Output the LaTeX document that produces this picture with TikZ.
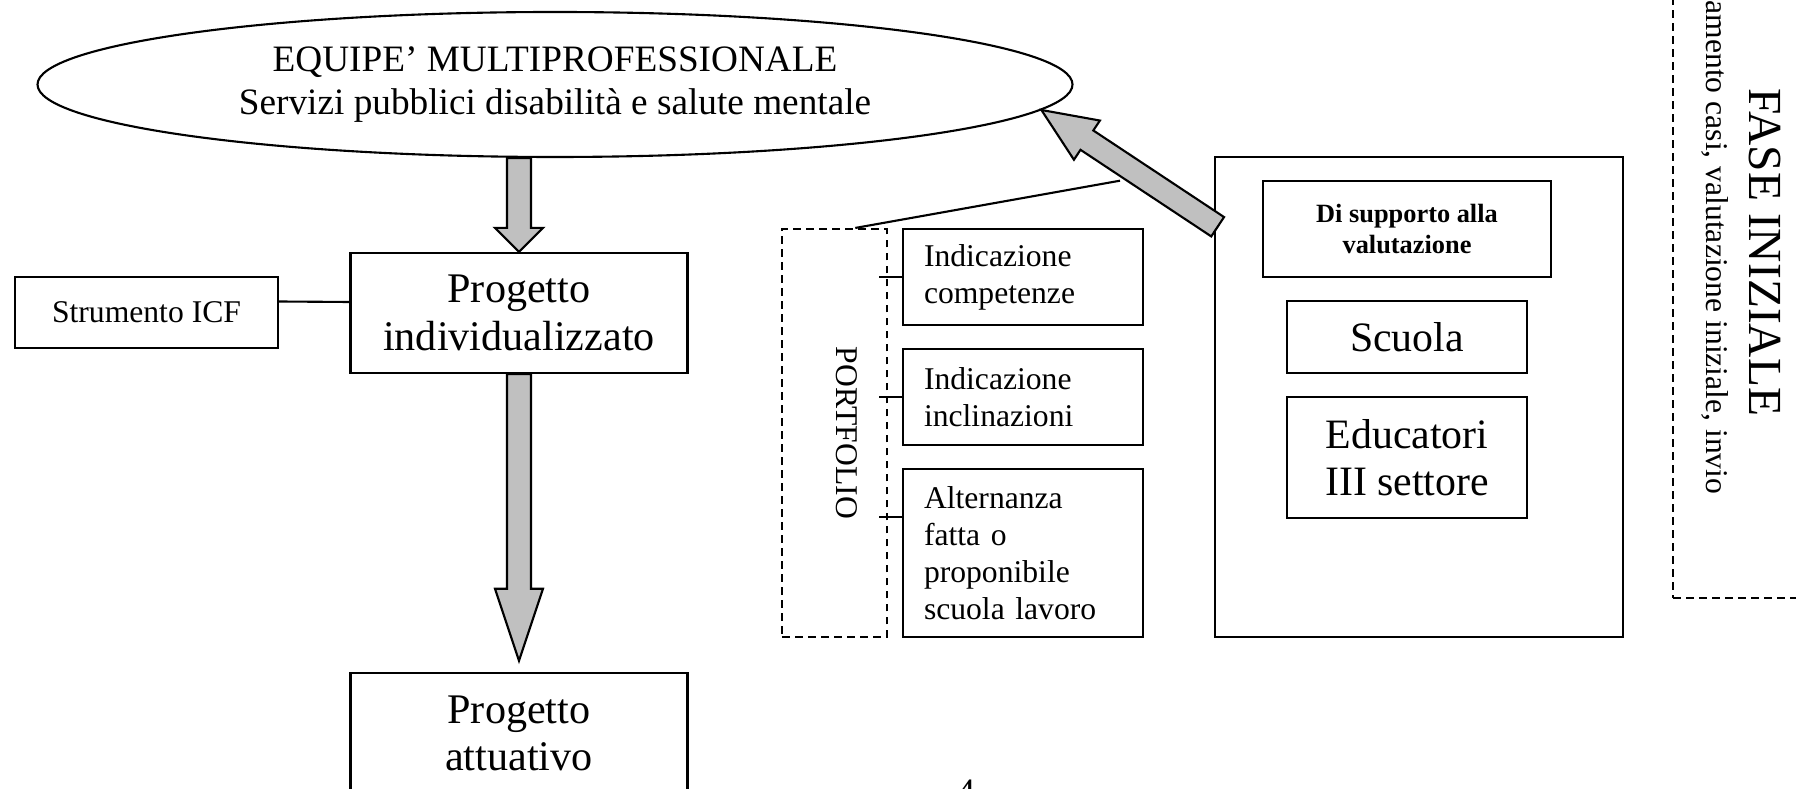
\documentclass[tikz,border=0pt]{standalone}
\usepackage{fontspec}
\setmainfont{Liberation Serif}
\usepackage{tikz}
\usetikzlibrary{shapes.geometric,calc}

\definecolor{arrowgray}{RGB}{192,192,192}

\tikzset{
  box/.style={draw, line width=0.6pt, inner sep=0pt, align=center},
  dashbox/.style={draw, line width=0.6pt, dash pattern=on 2.2pt off 1.5pt, inner sep=0pt},
  listbox/.style={box, align=left, text width=1.98cm, inner xsep=0.214cm, font=\fontsize{9}{10.5}\selectfont},
  big/.style={font=\fontsize{12}{13.6}\selectfont},
  small/.style={font=\fontsize{9}{10.5}\selectfont}
}

% block arrow: from, to, half shaft, half head, head length
\newcommand{\fatarrow}[5]{%
  \coordinate (fa-h) at ($(#2)!#5!(#1)$);
  \filldraw[fill=arrowgray, line width=0.6pt]
    ($(#1)!#3!90:(#2)$) -- ($(fa-h)!#3!-90:(#1)$) -- ($(fa-h)!#4!-90:(#1)$) -- (#2)
    -- ($(fa-h)!#4!90:(#1)$) -- ($(fa-h)!#3!90:(#1)$) -- ($(#1)!#3!-90:(#2)$) -- cycle;
}

\begin{document}
\begin{tikzpicture}
\useasboundingbox (0,0) rectangle (17.96,-7.89);
\clip (0,0) rectangle (17.96,-7.89);

% left column
\node[ellipse, box, minimum width=10.35cm, minimum height=1.45cm,
  font=\fontsize{10.6}{12.2}\selectfont] (equipe) at (5.55,-0.845)
  {EQUIPE’ MULTIPROFESSIONALE\\Servizi pubblici disabilità e salute mentale};
\node[box, big, minimum width=3.37cm, minimum height=1.2cm] (pind) at (5.19,-3.13) {Progetto\\individualizzato};
\node[box, small, minimum width=2.63cm, minimum height=0.71cm] (strum) at (1.465,-3.125) {Strumento ICF};
\node[box, big, minimum width=3.37cm, minimum height=1.2cm] (att) at (5.19,-7.334) {Progetto\\attuativo};

% portfolio
\node[dashbox, minimum width=1.045cm, minimum height=4.08cm] (port) at (8.343,-4.33) {};
\node[small, rotate=-90, inner sep=0pt] (portlab) at (8.47,-4.33) {PORTFOLIO};
\node[listbox, minimum height=0.96cm] (ind1) at (10.23,-2.77) {Indicazione\\competenze};
\node[listbox, minimum height=0.96cm] (ind2) at (10.23,-3.973) {Indicazione\\inclinazioni};
\node[listbox, minimum height=1.68cm] (alt) at (10.23,-5.533) {Alternanza\\fatta o\\proponibile\\scuola lavoro};

% valutazione
\node[box, minimum width=4.08cm, minimum height=4.8cm] (sup) at (14.19,-3.97) {};
\node[box, minimum width=2.88cm, minimum height=0.96cm, font=\fontsize{7.5}{8.8}\selectfont\bfseries] (val) at (14.07,-2.29) {Di supporto alla\\valutazione};
\node[box, minimum width=2.4cm, minimum height=0.72cm, font=\fontsize{11.9}{13.5}\selectfont] (scuola) at (14.07,-3.37) {Scuola};
\node[box, minimum width=2.4cm, minimum height=1.21cm, font=\fontsize{11.9}{13.5}\selectfont] (edu) at (14.07,-4.575) {Educatori\\III settore};

% fase iniziale
\node[dashbox, minimum width=1.6cm, minimum height=6.28cm] (fase) at (17.53,-2.84) {};
\node[rotate=-90, inner sep=0pt, font=\fontsize{13.5}{15}\selectfont] (fasetit) at (17.65,-2.525) {FASE INIZIALE};
\node[small, rotate=-90, inner sep=0pt, anchor=east] (fasesub) at (17.155,-4.95) {amento casi, valutazione iniziale, invio};

\node[inner sep=0pt, anchor=north, font=\fontsize{10.6}{12.2}\selectfont] (pagenum) at (9.66,-7.79) {4};

% connectors
\coordinate (tick) at (8.79,0);
\coordinate (link) at (11.2,-1.807);
\draw[line width=0.6pt] ([yshift=0.11cm]strum.east) -- ([yshift=0.11cm]pind.west);
\draw[line width=0.6pt] ([xshift=0.21cm]port.north) -- (link);
\foreach \bx/\dy in {ind1/0, ind2/0, alt/0.36}
  \draw[line width=0.6pt] ([yshift=\dy cm]\bx.west) -- ([yshift=\dy cm]\bx.west -| tick);

\coordinate (a1s) at (equipe.south -| pind.north);
\fatarrow{a1s}{pind.north}{0.12cm}{0.24cm}{0.24cm}
\coordinate (a2e) at ([yshift=0.116cm]att.north);
\fatarrow{pind.south}{a2e}{0.12cm}{0.24cm}{0.72cm}
\coordinate (a3s) at ([shift={(0.037,-0.708)}]sup.north west);
\fatarrow{a3s}{equipe.-3.17}{0.116cm}{0.235cm}{0.546cm}
\end{tikzpicture}
\end{document}
